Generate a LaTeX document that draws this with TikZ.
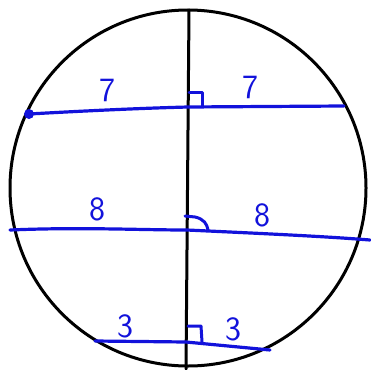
\documentclass[tikz,border=0pt]{standalone}
\definecolor{qqqqdd}{rgb}{0.07,0.07,0.86}
\begin{document}
\begin{tikzpicture}[x=1pt,y=-1pt,line cap=round,line join=round]
  \useasboundingbox (0,0) rectangle (371,369);
  \draw[line width=3pt] (188,188) circle (178);
  \coordinate (T) at (189,10);
  \coordinate (B) at (186,369);
  \draw[line width=3pt] (T)--(B);
  % chords
  \coordinate (A1) at (29,114);
  \coordinate (A2) at (344,106);
  \coordinate (M1) at (10,230);
  \coordinate (M2) at (370,240);
  \coordinate (L1) at (95,341);
  \coordinate (L2) at (270,350);
  \draw[line width=3.2pt,color=qqqqdd] (A1) .. controls (100,110) and (150,108) .. (188,107) -- (A2);
  \draw[line width=3.2pt,color=qqqqdd] (M1) .. controls (80,227) and (140,230) .. (187,230) .. controls (250,233) and (320,236) .. (M2);
  \draw[line width=3.2pt,color=qqqqdd] (L1)--(186,342)--(L2);
  \fill[color=qqqqdd] (A1) circle (5);
  % right angle marks
  \draw[line width=3pt,color=qqqqdd] (189,92)--(202,92)--(202,106);
  \draw[line width=3pt,color=qqqqdd] (185,216)--(195,217) .. controls (204,219) and (207,224) .. (208,230);
  \draw[line width=3pt,color=qqqqdd] (188,326)--(201,326)--(202,342);
  % labels
  \node[font=\sffamily\fontsize{34}{34}\selectfont,color=qqqqdd] (a) at (107,90) {7};
  \node[font=\sffamily\fontsize{34}{34}\selectfont,color=qqqqdd] (b) at (250,87) {7};
  \node[font=\sffamily\fontsize{34}{34}\selectfont,color=qqqqdd] (c) at (97,209) {8};
  \node[font=\sffamily\fontsize{34}{34}\selectfont,color=qqqqdd] (d) at (262,215) {8};
  \node[font=\sffamily\fontsize{34}{34}\selectfont,color=qqqqdd] (e) at (125,326) {3};
  \node[font=\sffamily\fontsize{34}{34}\selectfont,color=qqqqdd] (f) at (233,329) {3};
\end{tikzpicture}
\end{document}
